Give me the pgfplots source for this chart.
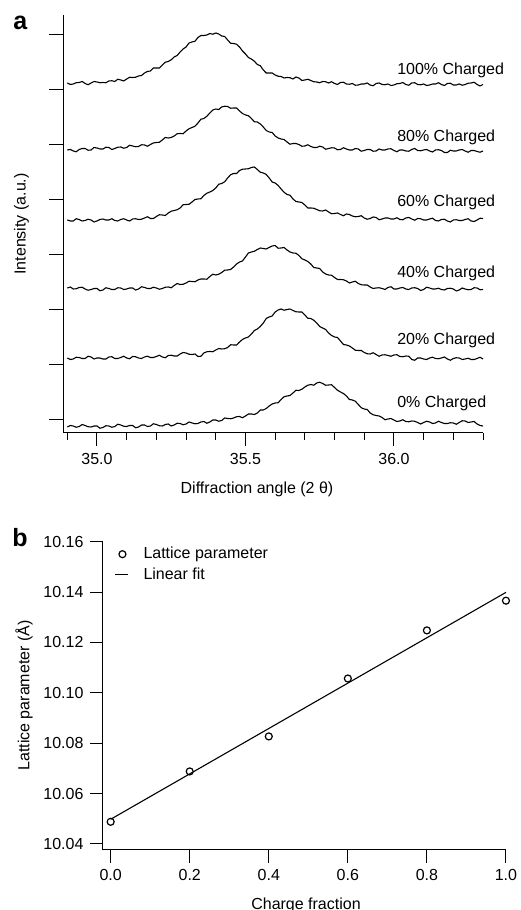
\documentclass[border=0pt]{standalone}
\usepackage{fontspec}
\setmainfont{Liberation Sans}
\usepackage{pgfplots}
\usepackage{pgfplotstable}
\pgfplotsset{compat=1.18}
\pgfplotsset{
  circleg/.style={legend image code/.code={\draw[mark repeat=2, mark phase=2, ##1] plot coordinates {(0pt,0pt) (3.75pt,0pt) (7.5pt,0pt)};}},
  lineleg/.style={legend image code/.code={\draw[##1] (0pt,0pt) -- (6.5pt,0pt);}},
}
\pgfplotstableread{
x c0 c20 c40 c60 c80 c100
34.90 6 75 145 213 283 350
34.91 7.5 73.5 146 212 283.5 348.5
34.92 7 74 144 212 282 349
34.93 5.75 75.75 144.25 214.25 281.25 350.25
34.94 6.5 75.5 145.5 213.5 283.5 350.5
34.95 8.5 74.5 145.75 212 284.5 351.5
34.96 7.5 74.5 144 212.5 284.5 349.5
34.97 6.25 76.75 142.75 213.75 282.75 348.25
34.98 6 76 143.5 213 283 350
34.99 7 74 144.5 211 285.5 351.5
35.00 7 75 144.5 212 285 351
35.01 4.75 75 142.25 213.5 284 350.25
35.02 5.5 74 143 214 284 350.5
35.03 7.25 74 145.25 213 285.75 350.25
35.04 7 76 144.5 213 285.5 352
35.05 5.75 76.25 143.5 214.25 283.5 352.25
35.06 6.5 74.5 143.5 212.5 284.5 351.5
35.07 8.75 74.5 145.25 212 285.75 353.75
35.08 8 75.5 145 213.5 286 353
35.09 6.75 76.75 143.5 214.25 284.75 352
35.10 6.5 75 144 213 285.5 354
35.11 7.5 74.25 145 212 287.75 355.75
35.12 7.5 76.5 145 214 287 355.5
35.13 5.25 76.25 143 214.25 286.25 355.75
35.14 6 75 144 213.5 286.5 357
35.15 8 74.5 146.25 213.75 288.25 357.5
35.16 8 76 145.5 215 288 360
35.17 6.5 76.75 144.5 216.25 286.75 361.5
35.18 7 75.5 144.5 214.5 288.5 362
35.19 9.25 75.5 145.75 214.5 290 365
35.20 8.5 76.5 145 216.5 290.5 365
35.21 7.25 77.75 143.75 218.25 290.75 365
35.22 7 76 144.5 218 293 368
35.23 8.5 75.25 145.75 217.5 295.5 370.75
35.24 9 77.5 146 220 295 371.5
35.25 7 77.75 145.25 221.75 295.5 373.25
35.26 8 77 147.5 222.5 297 376
35.27 9.75 77 149.5 223.25 299.25 377.5
35.28 9.5 79 148.5 225 299.5 381
35.29 8.25 80.5 148.75 228.25 299.25 384
35.30 9 80 150 228.5 302 386
35.31 11 78.75 151.75 228.75 304.25 390
35.32 10 78.5 151.5 231 305.5 391
35.33 9.25 79 151.25 233.5 306.75 391.75
35.34 9.5 76.5 153 234 310 395.5
35.35 11 76.75 154 234.25 313.75 397.5
35.36 11.5 80 154 237.5 314.5 397.5
35.37 9.75 81.25 153.75 239.75 316.75 398
35.38 11 81.5 156.5 241 320 399.5
35.39 13 81.25 158.75 242.5 323 398.75
35.40 13 83 158 245 324 400
35.41 11.75 84.5 158.75 248.75 323.5 399
35.42 12.5 84 160.5 249.5 326 397
35.43 15 84.25 162.75 251.25 326.75 396.5
35.44 14.5 85.5 163 255 326.5 393
35.45 14.25 88.25 163.5 258.25 324.75 389.75
35.46 15 88 166 259.5 325 389.5
35.47 16.25 88 169 259.5 325 388.75
35.48 16.5 91 171 262.5 322 386
35.49 15.25 93.5 172 263.75 319.5 382
35.50 17 95 176 264 318 379
35.51 19 96 180 264.25 317.25 375.5
35.52 19 99 181 265.5 314.5 374
35.53 18.5 102.5 181.75 266 311.25 371.75
35.54 20 104 183.5 263.5 311 368.5
35.55 23 106.5 185 260.75 309 367.25
35.56 23 110 184.5 260 306 363
35.57 24.5 114.5 184 258.5 302.5 360
35.58 27 116 185.5 255 301 360
35.59 29 117 187 251 300.5 360
35.60 30 121 187.5 250 297 358
35.61 30.25 123 184.75 247.5 295 356.75
35.62 33.5 124 185 244 294 356.5
35.63 36.25 122.75 185.5 240.75 293.5 355
35.64 37 123.5 183 238.5 291 355.5
35.65 37.5 124 181 237.75 288.75 355.25
35.66 40 122.5 180 234 289.5 354
35.67 42.75 121.25 179.75 231.5 289.5 356
35.68 42.5 121 177.5 231 288.5 355
35.69 43.75 121 174.25 230.5 286.75 352.5
35.70 46 118 173 228 287 353
35.71 47.75 114.75 171.5 225 288.25 353.75
35.72 48.5 114.5 169 225 286.5 352.5
35.73 47.75 112.75 165.5 224.75 285.5 351.25
35.74 50 110 165 223.5 285.5 351
35.75 50.75 106.5 164.5 222.25 286.75 350.25
35.76 49.5 105 161 222 286 351.5
35.77 47.75 103.5 159 223 283.75 351.25
35.78 48 100 158 221 284.5 350
35.79 48.25 97.5 157.75 219.25 285.25 351.25
35.80 45.5 96 155.5 219.5 285 349.5
35.81 42.75 95.5 153.5 220 283.25 348.5
35.82 41 92 153.5 218.5 283.5 350.5
35.83 39.5 88.5 153.25 217.25 285.25 350.75
35.84 37 88 152 219 284 349
35.85 33.5 87 150 218.5 283 348.75
35.86 33 85 151 217 283 349.5
35.87 31.75 82.75 151.75 216.25 284.5 347.75
35.88 28.5 82.5 149.5 216.5 284 348
35.89 25.25 82.5 148.25 217.25 281.75 349
35.90 24 80.5 148 215 282.5 349
35.91 23.5 79.25 148 213.75 283.5 350
35.92 20 79 146 214.5 283.5 348
35.93 18.25 80.25 144.5 216 281.75 347.25
35.94 17.5 78.5 145 215.5 282 349.5
35.95 17 76.75 145.25 213.25 284 350
35.96 15.5 78 144.5 214 283 348.5
35.97 13.25 78.25 143.5 215 283 348.25
35.98 14 77.5 145.5 215 284 349
35.99 14.5 76.75 146.25 214 284.25 347.5
36.00 13 78 144 214 282.5 348
36.01 11.5 78.25 144 215.25 281.25 349.25
36.02 12 76.5 145 213.5 283 349.5
36.03 13.25 76.25 145.5 213.25 283 350.5
36.04 11.5 77 144 215 282 348.5
36.05 11.25 76.75 143.5 215.5 281.75 347.75
36.06 12 73.5 145 214 283.5 350
36.07 11.75 72.75 145.25 212.75 284.5 350.25
36.08 10.5 75 144.5 214.5 282.5 348.5
36.09 9 75 142.5 214.25 282.25 348.25
36.10 10.5 74 143.5 213 283 349
36.11 11.75 73.5 145.75 213 283.5 347.5
36.12 11 75 145 214 282 348
36.13 9.5 75.75 144 214.75 281 349
36.14 10 74.5 144 212.5 283 349
36.15 11.75 74.25 144.75 212 283.25 350.25
36.16 10.5 75 143.5 213.5 282.5 348.5
36.17 9.5 76 143 213.75 280.5 347.5
36.18 9.5 74 144.5 212 280.5 349.5
36.19 10.25 72.75 144.75 211 282.75 349.75
36.20 10 74.5 144 213 282 348
36.21 8.75 75.25 142 213.25 282 348
36.22 10.5 75 143 212.5 283 349
36.23 12.25 73.5 145 212.5 283.5 347.75
36.24 12 74 144 213.5 282 348.5
36.25 10.5 74.75 143.25 214.25 280.75 349.75
36.26 11 73.5 143.5 212 282.5 350
36.27 11.5 73.5 145.25 211.5 282.5 350.75
36.28 9 74.5 145 213 281.5 348.5
36.29 7.5 75.75 143.25 214.75 280.75 347
36.30 7 74 143.5 214.5 282 348.5
}\xrd
\begin{document}
\begin{tikzpicture}[font=\fontsize{8}{9.6}\selectfont]
\path[use as bounding box] (0,0) rectangle (260pt,455pt);
\begin{axis}[
  at={(31.5pt,238.5pt)}, anchor=south west,
  scale only axis, width=210pt, height=209pt,
  xmin=34.8855, xmax=36.3, ymin=0, ymax=418,
  axis x line*=bottom, axis y line*=left,
  axis line style={-, line width=0.5pt},
  xtick={35,35.5,36},
  minor xtick={34.9,35.1,35.2,35.3,35.4,35.6,35.7,35.8,35.9,36.1,36.2,36.3},
  ytick={13,68,123,178,233,288,343,398}, yticklabels={},
  tick align=outside, major tick length=6.75pt, minor tick length=3.5pt,
  every tick/.style={black, line width=0.5pt},
  xticklabel style={font=\fontsize{8}{9.6}\selectfont, /pgf/number format/.cd, fixed, fixed zerofill, precision=1, assume math mode=true},
  clip=false,
]
\addplot[black, line width=0.55pt] table[x=x, y=c0] {\xrd};
\addplot[black, line width=0.55pt] table[x=x, y=c20] {\xrd};
\addplot[black, line width=0.55pt] table[x=x, y=c40] {\xrd};
\addplot[black, line width=0.55pt] table[x=x, y=c60] {\xrd};
\addplot[black, line width=0.55pt] table[x=x, y=c80] {\xrd};
\addplot[black, line width=0.55pt] table[x=x, y=c100] {\xrd};
\node[anchor=west, inner sep=0pt] at (axis cs:36.01,363) {100\% Charged};
\node[anchor=west, inner sep=0pt] at (axis cs:36.01,296) {80\% Charged};
\node[anchor=west, inner sep=0pt] at (axis cs:36.01,231) {60\% Charged};
\node[anchor=west, inner sep=0pt] at (axis cs:36.01,160) {40\% Charged};
\node[anchor=west, inner sep=0pt] at (axis cs:36.01,93) {20\% Charged};
\node[anchor=west, inner sep=0pt] at (axis cs:36.01,30) {0\% Charged};
\end{axis}
\node[rotate=90] at (10.75pt,343pt) {Intensity (a.u.)};
\node at (128.5pt,210.5pt) {Diffraction angle (2 θ)};
\node[anchor=base west, inner sep=0pt, font=\fontsize{12.5}{14}\selectfont\bfseries] at (6.5pt,440pt) {a};
\node[anchor=base west, inner sep=0pt, font=\fontsize{12.5}{14}\selectfont\bfseries] at (6pt,181.5pt) {b};
\begin{axis}[
  at={(51.5pt,30pt)}, anchor=south west,
  scale only axis, width=201.5pt, height=154.25pt,
  xmin=-0.0194, xmax=1.0001, ymin=10.0376, ymax=10.1601,
  axis x line*=bottom, axis y line*=left,
  axis line style={-, line width=0.5pt},
  xtick={0,0.2,0.4,0.6,0.8,1},
  ytick={10.04,10.06,10.08,10.10,10.12,10.14,10.16},
  tick align=outside, major tick length=6.25pt,
  every tick/.style={black, line width=0.5pt},
  xticklabel style={font=\fontsize{8}{9.6}\selectfont, /pgf/number format/.cd, fixed, fixed zerofill, precision=1, assume math mode=true},
  yticklabel style={font=\fontsize{8}{9.6}\selectfont, /pgf/number format/.cd, fixed, fixed zerofill, precision=2, assume math mode=true},
  legend style={draw=none, fill=none, at={(rel axis cs:0,1)}, anchor=north west, xshift=2.5pt, yshift=1pt,
    font=\fontsize{8}{9.6}\selectfont, row sep=0pt, nodes={inner sep=1.5pt},
    /tikz/every odd column/.append style={column sep=6pt}},
  legend cell align=left,
  clip=false,
]
\addplot[only marks, mark=o, mark size=1.75pt, black, line width=0.6pt, circleg]
  coordinates {(0,10.0488) (0.2,10.0688) (0.4,10.0827) (0.6,10.1057) (0.8,10.1248) (1.0,10.1366)};
\addlegendentry{Lattice parameter}
\addplot[black, line width=0.55pt, lineleg]
  coordinates {(0,10.0498) (1,10.1399)};
\addlegendentry{Linear fit}
\end{axis}
\node[rotate=90] at (12pt,107.25pt) {Lattice parameter (Å)};
\node[anchor=base] at (153pt,0.5pt) {Charge fraction};
\end{tikzpicture}
\end{document}
